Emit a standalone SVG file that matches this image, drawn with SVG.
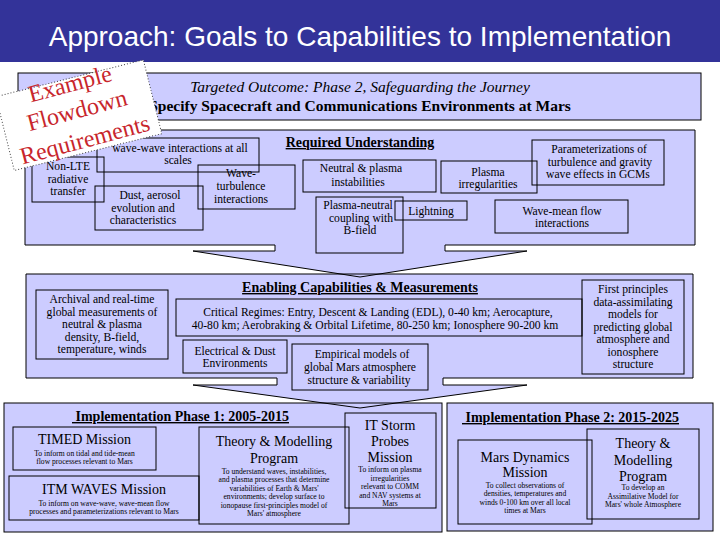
<svg xmlns="http://www.w3.org/2000/svg" width="720" height="540" viewBox="0 0 720 540">
<style>
.bg{fill:#ffffff}
.bar{fill:#333399}
.pf{fill:#ccccff;stroke:none}
.po{fill:none;stroke:#000;stroke-width:1}
.box{fill:none;stroke:#000;stroke-width:1}
.arrow{fill:#ccccff;stroke:none}
.arrowline{fill:none;stroke:#000;stroke-width:1}
text{font-family:"Liberation Serif","Times New Roman",serif;fill:#000}
.title{font-family:"Liberation Sans",Arial,sans-serif;font-size:28px;fill:#fff;text-anchor:middle}
.t12{font-size:11.6px;text-anchor:middle}
.h14{font-size:14px;font-weight:bold;text-decoration:underline}
.mid{text-anchor:middle}
.m14{font-size:14px;text-anchor:middle}
.s8{font-size:7.6px;text-anchor:middle}
.note{fill:#ffffff;stroke:#444;stroke-width:1;stroke-dasharray:1 2}
.nt{font-size:24px;fill:#c8262c;text-anchor:middle}
</style>
<rect class="bg" x="0" y="0" width="720" height="540"/>
<rect class="bar" x="0" y="0" width="720" height="62"/>
<text class="title" x="360" y="46">Approach:  Goals to Capabilities to Implementation</text>

<!-- panel fills -->
<g id="fills">
<rect class="pf" x="18" y="73" width="683" height="47"/>
<rect class="pf" x="25" y="130" width="670" height="115"/>
<rect class="pf" x="26" y="274" width="667" height="104"/>
<rect class="pf" x="4" y="403" width="438" height="129"/>
<rect class="pf" x="447" y="403" width="266" height="128"/>
</g>

<g id="connectors">
<path class="arrow" d="M275,244 V251 H193 L360,277 L527,251 H445 V244 Z"/>
<path class="arrowline" d="M275,245 V251 H193 L360,277 L527,251 H445 V245"/>
<path class="arrow" d="M277,377 V385 H193 L360,408 L527,385 H443 V377 Z"/>
<path class="arrowline" d="M277,378 V385 H193 L360,408 L527,385 H443 V378"/>
</g>

<g id="targeted">
<rect class="po" x="18" y="73" width="683" height="47"/>
<text class="mid" x="360" y="92" style="font-size:15.5px;font-style:italic">Targeted Outcome: Phase 2, Safeguarding the Journey</text>
<text class="mid" x="360" y="111" style="font-size:15.5px;font-weight:bold">Specify Spacecraft and Communications Environments at Mars</text>
</g>

<g id="required">
<path class="po" d="M275,245 H25 V130 H695 V245 H445"/>
<text class="h14 mid" x="360" y="147">Required Understanding</text>
</g>
<g id="n-wavewave"><rect class="box" x="97" y="138" width="162" height="34"/>
<text class="t12" x="180" y="151.5">wave-wave interactions at all</text><text class="t12" x="178" y="164">scales</text></g>
<g id="n-nonlte"><rect class="box" x="32" y="157" width="72" height="45"/>
<text class="t12" x="68" y="170">Non-LTE</text><text class="t12" x="68" y="182.5">radiative</text><text class="t12" x="68" y="195">transfer</text></g>
<g id="n-dust"><rect class="box" x="95" y="186" width="108" height="44"/>
<text class="t12" x="150" y="199">Dust, aerosol</text><text class="t12" x="143" y="211.5">evolution and</text><text class="t12" x="143" y="224">characteristics</text></g>
<g id="n-waveturb"><rect class="box" x="198" y="165" width="97" height="44"/>
<text class="t12" x="241" y="177">Wave-</text><text class="t12" x="241" y="190">turbulence</text><text class="t12" x="241" y="203">interactions</text></g>
<g id="n-neutral"><rect class="box" x="303" y="160" width="133" height="32"/>
<text class="t12" x="361" y="172">Neutral &amp; plasma</text><text class="t12" x="358" y="185.5">instabilities</text></g>
<g id="n-coupling"><rect class="box" x="316" y="197" width="87" height="56"/>
<text class="t12" x="358" y="209">Plasma-neutral</text><text class="t12" x="361" y="221.5">coupling with</text><text class="t12" x="360" y="234">B-field</text></g>
<g id="n-lightning"><rect class="box" x="395" y="201" width="72" height="19"/>
<text class="t12" x="431" y="215">Lightning</text></g>
<g id="n-irreg"><rect class="box" x="441" y="161" width="96" height="32"/>
<text class="t12" x="488" y="175.5">Plasma</text><text class="t12" x="488" y="188">irregularities</text></g>
<g id="n-param"><rect class="box" x="532" y="140" width="132" height="45"/>
<text class="t12" x="599" y="153">Parameterizations of</text><text class="t12" x="600" y="165.5">turbulence and gravity</text><text class="t12" x="598" y="178">wave effects in  GCMs</text></g>
<g id="n-wavemean"><rect class="box" x="495" y="200" width="133" height="33"/>
<text class="t12" x="562" y="214.5">Wave-mean flow</text><text class="t12" x="562" y="227">interactions</text></g>

<g id="enabling">
<path class="po" d="M277,378 H26 V274 H693 V378 H443"/>
<text class="h14 mid" x="360" y="292">Enabling Capabilities &amp; Measurements</text>
</g>
<g id="n-archival"><rect class="box" x="36" y="290" width="132" height="69"/>
<text class="t12" x="102" y="303">Archival and real-time</text><text class="t12" x="102" y="315.5">global measurements of</text><text class="t12" x="102" y="328">neutral &amp; plasma</text><text class="t12" x="102" y="340.5">density, B-field,</text><text class="t12" x="102" y="353">temperature, winds</text></g>
<g id="n-critical"><rect class="box" x="176" y="299" width="406" height="37"/>
<text class="t12" x="378" y="316">Critical Regimes: Entry, Descent &amp; Landing (EDL), 0-40 km;  Aerocapture,</text><text class="t12" x="375" y="329">40-80 km; Aerobraking &amp; Orbital Lifetime, 80-250 km; Ionosphere 90-200 km</text></g>
<g id="n-electrical"><rect class="box" x="183" y="340" width="104" height="33"/>
<text class="t12" x="235" y="354.5">Electrical &amp; Dust</text><text class="t12" x="235" y="367">Environments</text></g>
<g id="n-empirical"><rect class="box" x="292" y="344" width="136" height="46"/>
<text class="t12" x="362" y="358">Empirical models of</text><text class="t12" x="360" y="371">global Mars atmosphere</text><text class="t12" x="359" y="384">structure &amp; variability</text></g>
<g id="n-firstprinciples"><rect class="box" x="582" y="280" width="102" height="94"/>
<text class="t12" x="633" y="293">First principles</text><text class="t12" x="633" y="305.5">data-assimilating</text><text class="t12" x="633" y="318">models for</text><text class="t12" x="633" y="330.5">predicting global</text><text class="t12" x="633" y="343">atmosphere and</text><text class="t12" x="633" y="355.5">ionosphere</text><text class="t12" x="633" y="368">structure</text></g>

<g id="phase1">
<rect class="po" x="4" y="403" width="438" height="129"/>
<text class="h14" x="72" y="421">&#160;Implementation Phase 1: 2005-2015</text>
</g>
<g id="n-timed"><rect class="box" x="13" y="427" width="143" height="43"/>
<text class="m14" x="84.5" y="444">TIMED Mission</text><text class="s8" x="84.5" y="455.5">To inform on tidal and tide-mean</text><text class="s8" x="84.5" y="464">flow processes relevant to Mars</text></g>
<g id="n-itmwaves"><rect class="box" x="9" y="476" width="190" height="44"/>
<text class="m14" x="104" y="494">ITM WAVES Mission</text><text class="s8" x="104" y="505.5">To inform on wave-wave, wave-mean flow</text><text class="s8" x="104" y="514">processes and parameterizations relevant to Mars</text></g>
<g id="n-theory1"><rect class="box" x="199" y="427" width="150" height="97"/>
<text class="m14" x="274" y="446">Theory &amp; Modelling</text><text class="m14" x="274" y="463">Program</text>
<text class="s8" x="274" y="473.5">To understand waves, instabilities,</text><text class="s8" x="274" y="482">and plasma processes that determine</text><text class="s8" x="274" y="490.5">variabilities of Earth &amp; Mars'</text><text class="s8" x="274" y="499">environments; develop surface to</text><text class="s8" x="274" y="507.5">ionopause first-principles model of</text><text class="s8" x="274" y="516">Mars' atmosphere</text></g>
<g id="n-itstorm"><rect class="box" x="345" y="413" width="91" height="95"/>
<text class="m14" x="390" y="430">IT Storm</text><text class="m14" x="390" y="446">Probes</text><text class="m14" x="390" y="462">Mission</text>
<text class="s8" x="390" y="472">To inform on plasma</text><text class="s8" x="390" y="480.5">irregularities</text><text class="s8" x="390" y="489">relevant to COMM</text><text class="s8" x="390" y="497.5">and NAV systems at</text><text class="s8" x="390" y="506">Mars</text></g>

<g id="phase2">
<rect class="po" x="447" y="403" width="266" height="128"/>
<text class="h14" x="462" y="422">&#160;Implementation Phase 2: 2015-2025</text>
</g>
<g id="n-marsdyn"><rect class="box" x="458" y="440" width="134" height="84"/>
<text class="m14" x="525" y="462">Mars Dynamics</text><text class="m14" x="525" y="477">Mission</text>
<text class="s8" x="525" y="487.5">To collect observations of</text><text class="s8" x="525" y="496">densities, temperatures and</text><text class="s8" x="525" y="504.5">winds 0-100 km over all local</text><text class="s8" x="525" y="513">times at Mars</text></g>
<g id="n-theory2"><rect class="box" x="587" y="429" width="112" height="90"/>
<text class="m14" x="643" y="448">Theory &amp;</text><text class="m14" x="643" y="465">Modelling</text><text class="m14" x="643" y="481">Program</text>
<text class="s8" x="643" y="490">To develop an</text><text class="s8" x="643" y="498.5">Assimilative Model for</text><text class="s8" x="643" y="507">Mars' whole Atmosphere</text></g>

<g id="note">
<rect class="note" x="0" y="0" width="152" height="76" transform="translate(-4.1,96.7) rotate(-14)"/>
<text class="nt" transform="translate(72,91.5) rotate(-15)">Example</text>
<text class="nt" transform="translate(79,118) rotate(-15)">Flowdown</text>
<text class="nt" transform="translate(87,147.3) rotate(-15)">Requirements</text>
</g>
</svg>
